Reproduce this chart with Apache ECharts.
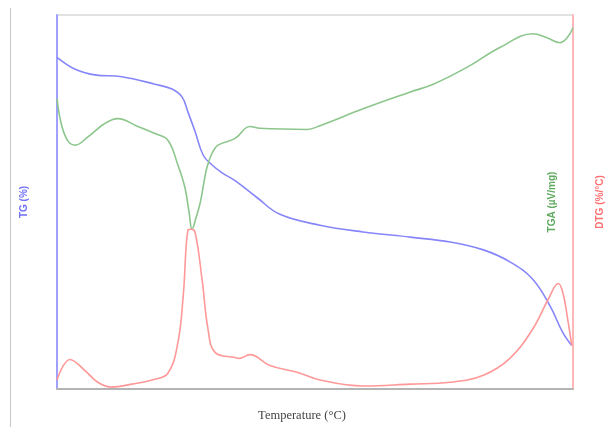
<!DOCTYPE html>
<html>
<head>
<meta charset="utf-8">
<script src="https://cdn.jsdelivr.net/npm/echarts@6/dist/echarts.min.js"></script>
<style>
  html, body { margin: 0; padding: 0; background: #fff; }
  #chart { width: 615px; height: 427px; }
</style>
</head>
<body>
<div id="chart"></div>
<script>
// TG (%) vs temperature
const tgTemp = [25, 56, 89, 135, 191, 220, 237, 247, 259, 273, 288, 305, 327, 364, 403, 471, 544, 624, 692, 748, 793, 832, 861, 883, 898];
const tgVals = [88.7, 85.5, 84.0, 83.5, 81.5, 80.2, 78.1, 74.1, 68.9, 62.5, 59.9, 57.8, 55.7, 51.2, 46.7, 43.8, 42.0, 40.6, 39.3, 37.2, 34.0, 29.3, 22.2, 15.0, 11.6];

// TGA (µV/mg), relative scale
const tgaTemp = [25, 33, 44, 56, 78, 106, 128, 162, 191, 213, 230, 242, 249, 254, 261, 268, 274, 279, 288, 298, 327, 352, 369, 449, 471, 544, 624, 663, 720, 776, 832, 856, 878, 890, 900];
const tgaVals = [77.6, 70.4, 66.2, 65.2, 67.5, 71.0, 72.3, 70.2, 68.3, 66.5, 59.9, 53.8, 47.2, 42.7, 45.9, 49.9, 55.1, 59.1, 63.1, 65.2, 67.0, 70.2, 69.7, 69.4, 70.4, 74.9, 79.4, 81.5, 86.0, 91.3, 95.0, 93.9, 92.6, 93.9, 96.6];

// DTG (%/°C), relative scale
const dtgTemp = [25, 47, 72, 94, 118, 152, 186, 213, 230, 239, 247, 252, 259, 271, 281, 293, 327, 335, 352, 386, 432, 471, 544, 624, 692, 748, 793, 832, 858, 875, 883, 892, 898];
const dtgVals = [2.4, 7.9, 5.0, 1.8, 0.5, 1.3, 2.4, 4.2, 12.4, 24.8, 42.5, 42.7, 42.0, 29.3, 16.1, 9.8, 8.4, 8.2, 9.2, 6.3, 4.5, 2.4, 0.8, 1.3, 1.8, 3.7, 8.2, 16.1, 24.0, 28.2, 25.6, 17.7, 11.6];

const zip = (xs, ys) => xs.map((x, i) => [x, ys[i]]);

const blue = '#8686fa';
const green = '#8cc68c';
const red = '#ff9898';

const chart = echarts.init(document.getElementById('chart'));

const labelFont = { fontFamily: 'Liberation Sans, Arial, sans-serif', fontSize: 10, fontWeight: 600 };

chart.setOption({
  animation: false,
  grid: {
    left: 57, right: 42, top: 15, bottom: 32,
    show: true, borderColor: '#c4c4c4', borderWidth: 1
  },
  graphic: [{
    type: 'line',
    shape: { x1: 10.5, y1: 8, x2: 10.5, y2: 427 },
    style: { stroke: '#c8c8c8', lineWidth: 1 }
  }],
  xAxis: {
    type: 'value', min: 25, max: 900,
    name: 'Temperature (°C)', nameLocation: 'middle', nameGap: 20,
    nameTextStyle: { fontFamily: 'Liberation Serif, Times New Roman, serif', fontSize: 12.5, color: '#444', padding: [0, 26, 0, 0] },
    axisLine: { show: true, lineStyle: { color: '#b4b4b4', width: 2 } },
    axisTick: { show: false }, axisLabel: { show: false }, splitLine: { show: false }
  },
  yAxis: [
    {
      type: 'value', min: 0, max: 100, position: 'left',
      name: 'TG (%)', nameLocation: 'middle', nameRotate: 90, nameGap: 28,
      nameTextStyle: Object.assign({ color: '#7070f8' }, labelFont),
      axisLine: { show: true, lineStyle: { color: '#a0a0ff', width: 2 } },
      axisTick: { show: false }, axisLabel: { show: false }, splitLine: { show: false }
    },
    {
      type: 'value', min: 0, max: 100, position: 'right', offset: -32,
      name: 'TGA (µV/mg)', nameLocation: 'middle', nameRotate: 90, nameGap: 6,
      nameTextStyle: Object.assign({ color: '#5faa5f' }, labelFont),
      axisLine: { show: false }, axisTick: { show: false }, axisLabel: { show: false }, splitLine: { show: false }
    },
    {
      type: 'value', min: 0, max: 100, position: 'right',
      name: 'DTG (%/°C)', nameLocation: 'middle', nameRotate: 90, nameGap: 22,
      nameTextStyle: Object.assign({ color: '#ff6f6f' }, labelFont),
      axisLine: { show: true, lineStyle: { color: '#ffb8b8', width: 2 } },
      axisTick: { show: false }, axisLabel: { show: false }, splitLine: { show: false }
    }
  ],
  series: [
    {
      name: 'TG', type: 'line', yAxisIndex: 0, data: zip(tgTemp, tgVals),
      smooth: 0.4, showSymbol: false, lineStyle: { color: blue, width: 1.6 }
    },
    {
      name: 'TGA', type: 'line', yAxisIndex: 1, data: zip(tgaTemp, tgaVals),
      smooth: 0.4, showSymbol: false, lineStyle: { color: green, width: 1.6 }
    },
    {
      name: 'DTG', type: 'line', yAxisIndex: 2, data: zip(dtgTemp, dtgVals),
      smooth: 0.4, showSymbol: false, lineStyle: { color: red, width: 1.6 }
    }
  ]
});
</script>
</body>
</html>
